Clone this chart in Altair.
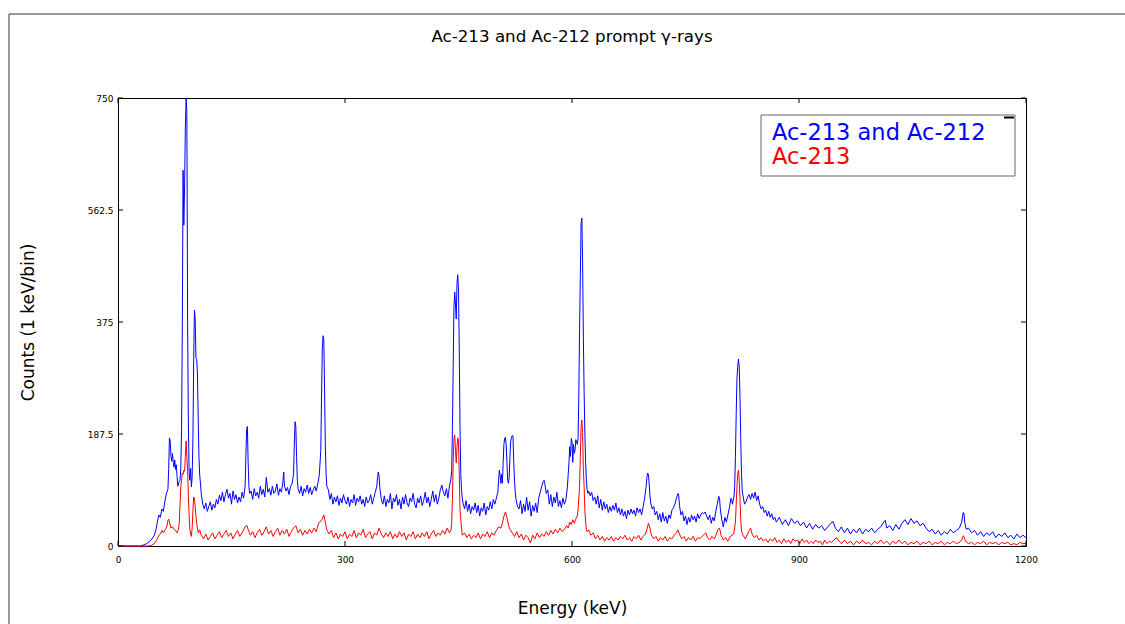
import altair as alt
import pandas as pd

# ---------------- data ----------------
series_names = ["Ac-213 and Ac-212", "Ac-213"]
series_colors = ["#0000ff", "#ff0000"]

x_ticks = [0, 300, 600, 900, 1200]
y_ticks = [0, 187.5, 375, 562.5, 750]

blue_energy = [
    0, 30, 34, 38, 42, 45, 48, 50, 52, 54,
    56, 58, 60, 62, 64, 66, 67, 68, 69, 70,
    71, 72, 73, 74, 75, 76, 77, 78, 79, 80,
    81, 82, 83, 84, 85, 86, 87, 88, 89, 90,
    91, 92, 93, 94, 95, 96, 97, 98, 99, 100,
    101, 102, 103, 104, 105, 106, 107, 108, 109, 110,
    112, 114, 116, 118, 120, 122, 124, 126, 128, 130,
    132, 134, 136, 138, 140, 142, 144, 146, 148, 150,
    152, 154, 156, 158, 160, 162, 164, 166, 168, 169,
    170, 171, 172, 173, 174, 176, 178, 180, 182, 184,
    186, 188, 190, 192, 194, 196, 198, 200, 202, 204,
    206, 208, 210, 212, 214, 216, 218, 219, 220, 222,
    224, 226, 228, 230, 232, 233, 234, 235, 236, 237,
    238, 240, 242, 244, 246, 248, 250, 252, 254, 256,
    258, 260, 262, 264, 266, 268, 269, 270, 271, 272,
    273, 274, 275, 276, 278, 280, 282, 284, 286, 288,
    290, 292, 294, 296, 298, 300, 302, 304, 306, 308,
    310, 312, 314, 316, 318, 320, 322, 324, 326, 328,
    330, 332, 334, 336, 338, 340, 342, 343, 344, 345,
    346, 348, 350, 352, 354, 356, 358, 360, 362, 364,
    366, 368, 370, 372, 374, 376, 378, 380, 382, 384,
    386, 388, 390, 392, 394, 396, 398, 400, 402, 404,
    406, 408, 410, 412, 414, 416, 418, 420, 422, 424,
    426, 428, 430, 432, 434, 436, 438, 440, 441, 442,
    443, 444, 445, 446, 447, 448, 449, 450, 451, 452,
    453, 454, 455, 456, 458, 460, 462, 464, 466, 468,
    470, 472, 474, 476, 478, 480, 482, 484, 486, 488,
    490, 492, 494, 496, 498, 500, 502, 503, 504, 505,
    506, 507, 508, 509, 510, 511, 512, 513, 514, 515,
    516, 517, 518, 519, 520, 521, 522, 523, 524, 525,
    526, 528, 530, 532, 534, 536, 538, 540, 542, 544,
    546, 548, 550, 552, 554, 556, 558, 560, 562, 563,
    564, 566, 568, 570, 572, 574, 576, 578, 580, 582,
    584, 586, 588, 590, 592, 594, 595, 596, 597, 598,
    599, 600, 601, 602, 603, 604, 605, 606, 607, 608,
    609, 610, 611, 612, 613, 614, 615, 616, 617, 618,
    619, 620, 621, 622, 624, 626, 628, 630, 632, 634,
    636, 638, 640, 642, 644, 646, 648, 650, 652, 654,
    656, 658, 660, 662, 664, 666, 668, 670, 672, 674,
    676, 678, 680, 682, 684, 686, 688, 690, 692, 694,
    696, 698, 699, 700, 701, 702, 703, 704, 706, 708,
    710, 712, 714, 716, 718, 720, 722, 724, 726, 728,
    730, 732, 734, 736, 738, 740, 741, 742, 744, 746,
    748, 750, 752, 754, 756, 758, 760, 762, 764, 766,
    768, 770, 772, 774, 776, 778, 780, 782, 784, 786,
    788, 790, 792, 794, 795, 796, 798, 800, 802, 804,
    806, 808, 810, 811, 812, 814, 815, 816, 817, 818,
    819, 820, 821, 822, 823, 824, 825, 826, 828, 830,
    832, 834, 836, 838, 840, 842, 844, 846, 848, 850,
    852, 854, 856, 858, 860, 862, 864, 866, 868, 870,
    874, 878, 882, 886, 890, 894, 898, 902, 906, 910,
    914, 918, 922, 926, 930, 934, 938, 942, 945, 948,
    952, 956, 960, 964, 968, 972, 976, 980, 984, 988,
    992, 996, 1000, 1004, 1008, 1012, 1014, 1016, 1020, 1024,
    1028, 1032, 1036, 1040, 1044, 1048, 1052, 1056, 1060, 1064,
    1068, 1072, 1076, 1080, 1084, 1088, 1092, 1096, 1100, 1104,
    1108, 1112, 1115, 1117, 1118, 1119, 1121, 1124, 1128, 1132,
    1136, 1140, 1144, 1148, 1152, 1156, 1160, 1164, 1168, 1172,
    1176, 1180, 1184, 1188, 1192, 1196, 1200,
]
blue_counts = [
    0, 0, 2, 4, 8, 12, 18, 26, 40, 52,
    48, 62, 58, 75, 88, 95, 130, 181, 176, 150,
    142, 155, 140, 132, 144, 128, 136, 118, 100, 104,
    108, 110, 130, 194, 365, 629, 537, 601, 700, 750,
    728, 373, 206, 122, 110, 130, 99, 115, 180, 306,
    395, 380, 316, 312, 290, 214, 149, 118, 105, 88,
    70, 62, 72, 58, 66, 74, 60, 70, 64, 78,
    70, 85, 76, 90, 74, 86, 95, 80, 88, 70,
    92, 78, 86, 72, 82, 74, 90, 80, 100, 150,
    195, 200, 140, 100, 88, 92, 78, 96, 84, 90,
    80, 100, 86, 95, 82, 115, 90, 96, 85, 100,
    88, 92, 104, 85, 96, 90, 108, 124, 100, 92,
    98, 86, 100, 104, 120, 170, 208, 200, 150, 110,
    96, 88, 100, 84, 96, 90, 102, 88, 98, 86,
    94, 100, 92, 104, 118, 160, 250, 330, 352, 345,
    260, 170, 120, 100, 94, 78, 88, 70, 82, 74,
    84, 68, 80, 72, 86, 76, 70, 82, 66, 78,
    72, 86, 68, 80, 74, 84, 70, 78, 66, 82,
    72, 76, 86, 70, 80, 90, 100, 115, 124, 118,
    98, 78, 70, 84, 66, 78, 72, 88, 62, 80,
    74, 86, 68, 78, 62, 82, 70, 86, 72, 66,
    80, 74, 88, 70, 64, 80, 72, 84, 68, 76,
    90, 72, 82, 66, 78, 92, 74, 86, 70, 80,
    94, 102, 90, 84, 96, 80, 100, 112, 127, 200,
    300, 400, 425, 405, 380, 440, 454, 430, 330, 200,
    120, 95, 80, 72, 62, 76, 58, 70, 54, 66,
    60, 72, 56, 68, 50, 64, 58, 72, 52, 66,
    60, 74, 62, 78, 70, 80, 90, 110, 127, 118,
    105, 120, 105, 140, 170, 180, 182, 170, 140, 110,
    105, 115, 150, 175, 182, 185, 184, 140, 110, 90,
    78, 66, 62, 76, 54, 70, 58, 82, 60, 74,
    50, 68, 58, 72, 56, 80, 90, 100, 108, 110,
    105, 88, 94, 70, 86, 66, 82, 72, 90, 66,
    76, 64, 80, 70, 78, 100, 120, 140, 166, 150,
    180, 175, 140, 170, 155, 160, 178, 175, 170, 180,
    250, 362, 450, 540, 549, 479, 350, 260, 189, 140,
    110, 94, 88, 92, 84, 90, 76, 82, 70, 84,
    64, 78, 60, 74, 62, 70, 56, 66, 58, 68,
    60, 72, 56, 64, 52, 62, 50, 58, 46, 60,
    52, 62, 54, 60, 50, 64, 56, 62, 52, 66,
    80, 100, 115, 122, 120, 105, 85, 72, 62, 66,
    52, 58, 44, 54, 40, 56, 42, 50, 38, 52,
    46, 60, 64, 70, 80, 88, 85, 68, 52, 58,
    42, 50, 36, 48, 40, 52, 44, 50, 40, 54,
    46, 52, 56, 54, 57, 50, 44, 52, 38, 48,
    42, 58, 70, 83, 80, 62, 44, 32, 48, 40,
    52, 64, 80, 78, 70, 82, 100, 150, 220, 280,
    300, 313, 300, 250, 180, 120, 92, 84, 70, 74,
    82, 86, 78, 88, 80, 90, 76, 84, 70, 62,
    66, 56, 60, 50, 58, 48, 54, 44, 48, 40,
    48, 36, 44, 34, 46, 38, 42, 34, 40, 30,
    38, 28, 36, 30, 34, 26, 32, 38, 41, 30,
    24, 32, 22, 30, 20, 28, 22, 30, 20, 28,
    24, 30, 22, 28, 32, 40, 43, 30, 34, 26,
    36, 28, 38, 44, 36, 46, 38, 42, 34, 38,
    30, 24, 28, 20, 26, 18, 24, 20, 28, 22,
    26, 30, 40, 56, 55, 40, 28, 30, 22, 26,
    18, 24, 16, 22, 18, 24, 14, 20, 16, 22,
    14, 18, 12, 20, 14, 18, 14,
]

red_energy = [
    0, 40, 44, 48, 52, 54, 56, 58, 60, 62,
    64, 66, 67, 68, 70, 72, 74, 76, 78, 80,
    81, 82, 83, 84, 85, 86, 87, 88, 89, 90,
    91, 92, 93, 94, 95, 96, 97, 98, 99, 100,
    101, 102, 103, 104, 105, 106, 108, 110, 113, 116,
    119, 122, 125, 128, 131, 134, 137, 140, 143, 146,
    149, 152, 155, 158, 161, 164, 167, 170, 172, 175,
    178, 181, 184, 187, 190, 193, 196, 199, 202, 205,
    208, 211, 214, 217, 220, 223, 226, 229, 232, 235,
    238, 241, 244, 247, 250, 253, 256, 259, 262, 265,
    268, 270, 272, 274, 276, 279, 282, 285, 288, 291,
    294, 297, 300, 303, 306, 309, 312, 315, 318, 321,
    324, 327, 330, 333, 336, 339, 342, 345, 348, 351,
    354, 357, 360, 363, 366, 369, 372, 375, 378, 381,
    384, 387, 390, 393, 396, 399, 402, 405, 408, 411,
    414, 417, 420, 423, 426, 429, 432, 435, 438, 440,
    441, 442, 443, 444, 445, 446, 447, 448, 449, 450,
    451, 452, 453, 454, 455, 458, 461, 464, 467, 470,
    473, 476, 479, 482, 485, 488, 491, 494, 497, 500,
    503, 506, 508, 510, 512, 514, 516, 518, 521, 524,
    527, 530, 533, 536, 539, 542, 545, 548, 551, 554,
    557, 560, 563, 566, 569, 572, 575, 578, 581, 584,
    587, 590, 593, 595, 597, 599, 601, 603, 605, 607,
    608, 609, 610, 611, 612, 613, 614, 615, 616, 617,
    618, 619, 620, 622, 625, 628, 631, 634, 637, 640,
    643, 646, 649, 652, 655, 658, 661, 664, 667, 670,
    673, 676, 679, 682, 685, 688, 691, 694, 697, 699,
    701, 703, 705, 708, 711, 714, 717, 720, 723, 726,
    729, 732, 735, 738, 740, 742, 745, 748, 751, 754,
    757, 760, 763, 766, 769, 772, 775, 777, 779, 782,
    785, 788, 791, 793, 795, 797, 800, 803, 806, 809,
    812, 814, 816, 817, 818, 819, 820, 821, 822, 823,
    824, 826, 829, 832, 834, 836, 838, 841, 844, 847,
    850, 853, 856, 859, 862, 865, 868, 871, 874, 877,
    880, 883, 886, 889, 892, 895, 898, 901, 904, 907,
    910, 913, 916, 919, 922, 925, 928, 931, 934, 937,
    940, 943, 946, 950, 953, 956, 960, 964, 968, 972,
    976, 980, 984, 988, 992, 996, 1000, 1004, 1008, 1012,
    1016, 1020, 1024, 1028, 1032, 1036, 1040, 1044, 1048, 1052,
    1056, 1060, 1064, 1068, 1072, 1076, 1080, 1084, 1088, 1092,
    1096, 1100, 1104, 1108, 1112, 1115, 1117, 1118, 1120, 1124,
    1128, 1132, 1136, 1140, 1144, 1148, 1152, 1156, 1160, 1164,
    1168, 1172, 1176, 1180, 1184, 1188, 1192, 1196, 1200,
]
red_counts = [
    0, 0, 1, 4, 12, 18, 20, 26, 22, 27,
    30, 43, 45, 40, 30, 32, 28, 26, 22, 28,
    40, 70, 99, 110, 122, 120, 127, 125, 150, 176,
    150, 125, 83, 50, 27, 20, 16, 30, 60, 82,
    80, 66, 50, 38, 30, 22, 27, 18, 12, 20,
    10, 16, 22, 12, 18, 24, 14, 20, 26, 16,
    22, 12, 20, 26, 16, 22, 30, 35, 28, 18,
    24, 14, 22, 28, 18, 24, 32, 20, 26, 16,
    24, 30, 18, 26, 20, 28, 16, 24, 30, 34,
    22, 28, 18, 26, 20, 28, 22, 30, 24, 38,
    42, 45, 52, 40, 27, 20, 26, 14, 22, 12,
    20, 16, 24, 12, 20, 16, 26, 14, 22, 18,
    28, 14, 20, 24, 12, 22, 18, 30, 20, 14,
    22, 16, 24, 12, 20, 14, 24, 16, 22, 10,
    20, 16, 24, 12, 20, 14, 22, 16, 24, 12,
    20, 26, 16, 22, 18, 26, 20, 30, 22, 26,
    38, 80, 140, 180, 186, 160, 139, 165, 181, 175,
    120, 60, 43, 30, 18, 22, 14, 20, 12, 18,
    14, 22, 12, 20, 16, 24, 14, 22, 18, 26,
    32, 30, 38, 50, 57, 48, 35, 28, 22, 16,
    24, 14, 20, 10, 18, 14, 5, 18, 12, 22,
    14, 20, 16, 24, 18, 26, 20, 28, 22, 30,
    24, 28, 34, 30, 40, 36, 44, 38, 45, 50,
    60, 80, 100, 150, 200, 211, 190, 130, 100, 60,
    40, 28, 24, 27, 18, 22, 12, 18, 10, 16,
    8, 14, 10, 16, 8, 14, 10, 16, 12, 18,
    10, 14, 8, 16, 12, 18, 10, 16, 20, 28,
    38, 30, 18, 12, 16, 8, 14, 10, 16, 8,
    14, 12, 18, 22, 27, 20, 12, 16, 8, 14,
    10, 16, 8, 14, 12, 16, 20, 22, 14, 10,
    16, 12, 20, 28, 30, 18, 10, 14, 8, 16,
    18, 22, 40, 70, 100, 120, 127, 110, 80, 45,
    25, 18, 12, 20, 26, 30, 20, 14, 18, 10,
    14, 8, 12, 6, 12, 8, 14, 6, 10, 4,
    12, 6, 10, 4, 12, 8, 10, 4, 12, 6,
    10, 4, 8, 4, 10, 6, 8, 2, 10, 4,
    8, 6, 10, 14, 8, 4, 10, 4, 8, 2,
    8, 4, 10, 4, 6, 2, 8, 4, 10, 4,
    8, 2, 8, 4, 10, 4, 8, 2, 6, 4,
    8, 2, 6, 4, 8, 2, 6, 4, 8, 2,
    6, 4, 8, 4, 6, 10, 17, 16, 8, 4,
    6, 2, 6, 4, 8, 2, 6, 4, 6, 2,
    6, 4, 6, 2, 4, 2, 6, 4, 4,
]

assert len(blue_energy) == len(blue_counts), (len(blue_energy), len(blue_counts))
assert len(red_energy) == len(red_counts), (len(red_energy), len(red_counts))

# ---------------- chart ----------------
W, H = 908, 448
FONT = "DejaVu Sans"

blue_df = pd.DataFrame({"E": blue_energy, "C": blue_counts})
red_df = pd.DataFrame({"E": red_energy, "C": red_counts})
xt_df = pd.DataFrame({"v": x_ticks})
yt_df = pd.DataFrame({"v": y_ticks})
one = pd.DataFrame({"k": [0]})

xscale = alt.Scale(domain=[0, 1200], nice=False, zero=False)
yscale = alt.Scale(domain=[0, 750], nice=False, zero=False)

xaxis = alt.Axis(values=x_ticks, ticks=False, domain=False, grid=False,
                 labelFont=FONT, labelFontSize=9, labelPadding=9, labelColor="black",
                 labelFlush=False, labelExpr="'' + datum.value",
                 title="Energy (keV)", titleFont=FONT, titleFontSize=17,
                 titleFontWeight="normal", titleColor="black",
                 titleY=54, titleBaseline="top")
yaxis = alt.Axis(values=y_ticks, ticks=False, domain=False, grid=False,
                 labelFont=FONT, labelFontSize=9, labelPadding=5, labelColor="black",
                 labelFlush=False, labelExpr="'' + datum.value",
                 title="Counts (1 keV/bin)", titleFont=FONT, titleFontSize=17,
                 titleFontWeight="normal", titleColor="black",
                 titleX=-81, titleY=H / 2, titleBaseline="bottom", titleAngle=270)

X = alt.X("E:Q", scale=xscale, axis=xaxis)
Y = alt.Y("C:Q", scale=yscale, axis=yaxis)

blue_line = alt.Chart(blue_df).mark_line(color=series_colors[0], strokeWidth=1).encode(x=X, y=Y)
red_line = alt.Chart(red_df).mark_line(color=series_colors[1], strokeWidth=1).encode(x=X, y=Y)

XT = alt.X("v:Q", scale=xscale, axis=xaxis)
YT = alt.Y("v:Q", scale=yscale, axis=yaxis)
tick_style = dict(color="black", strokeWidth=1)
xt_bottom = alt.Chart(xt_df).mark_rule(**tick_style).encode(x=XT, y=alt.value(H - 5), y2=alt.value(H))
xt_top = alt.Chart(xt_df).mark_rule(**tick_style).encode(x=XT, y=alt.value(0), y2=alt.value(5))
yt_left = alt.Chart(yt_df).mark_rule(**tick_style).encode(y=YT, x=alt.value(0), x2=alt.value(5))
yt_right = alt.Chart(yt_df).mark_rule(**tick_style).encode(y=YT, x=alt.value(W - 5), x2=alt.value(W))

# outer frame (partially visible box around the figure)
frame_top = alt.Chart(one).mark_rule(color="#333333", strokeWidth=1).encode(
    x=alt.value(-109), x2=alt.value(1007), y=alt.value(-84))
frame_left = alt.Chart(one).mark_rule(color="#333333", strokeWidth=1).encode(
    x=alt.value(-109), y=alt.value(-84), y2=alt.value(526))

# chart title
title_txt = alt.Chart(one).mark_text(text="Ac-213 and Ac-212 prompt γ-rays", font=FONT,
                                     fontSize=16.7, align="center", baseline="alphabetic",
                                     color="black").encode(x=alt.value(W / 2), y=alt.value(-56))

# legend box
leg_box = alt.Chart(one).mark_rect(fill="white", stroke="#666666", strokeWidth=1).encode(
    x=alt.value(643), x2=alt.value(897), y=alt.value(17), y2=alt.value(78))
leg_dash = alt.Chart(one).mark_rule(color="black", strokeWidth=2).encode(
    x=alt.value(886), x2=alt.value(896), y=alt.value(19.5))
leg_t1 = alt.Chart(one).mark_text(text=series_names[0], font=FONT, fontSize=22.5, align="left",
                                  baseline="alphabetic", color=series_colors[0]).encode(
    x=alt.value(654), y=alt.value(42))
leg_t2 = alt.Chart(one).mark_text(text=series_names[1], font=FONT, fontSize=22.5, align="left",
                                  baseline="alphabetic", color=series_colors[1]).encode(
    x=alt.value(654), y=alt.value(66))

chart = alt.layer(
    frame_top, frame_left, title_txt,
    blue_line, red_line,
    xt_bottom, xt_top, yt_left, yt_right,
    leg_box, leg_dash, leg_t1, leg_t2,
).properties(
    width=W, height=H,
    autosize=alt.AutoSizeParams(type="none"),
    padding={"left": 118, "top": 98, "right": 99, "bottom": 78},
    background="white",
).configure_view(stroke="black", strokeWidth=1)

chart.save("out.html", embed_options={"renderer": "svg", "actions": False})
